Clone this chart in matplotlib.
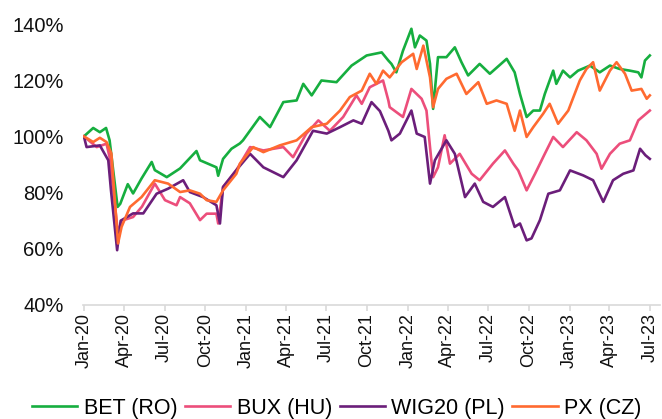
import matplotlib
matplotlib.use('Agg')
import matplotlib.pyplot as plt
import matplotlib.dates as mdates
from matplotlib.ticker import FuncFormatter
import pandas as pd


# values (index, Jan 2020 = 100%)
bet_dates = ['2020-01-01', '2020-01-22', '2020-02-06', '2020-02-20', '2020-02-28', '2020-03-17',
             '2020-03-23', '2020-04-09', '2020-04-21', '2020-05-10', '2020-06-02', '2020-06-09',
             '2020-07-06', '2020-08-05', '2020-09-11', '2020-09-19', '2020-10-26', '2020-10-30',
             '2020-11-10', '2020-11-29', '2020-12-18', '2020-12-25', '2021-02-01', '2021-02-24',
             '2021-03-26', '2021-04-25', '2021-05-10', '2021-05-29', '2021-06-20', '2021-07-24',
             '2021-08-27', '2021-09-30', '2021-11-03', '2021-11-18', '2021-11-25', '2021-12-06',
             '2021-12-21', '2022-01-09', '2022-01-17', '2022-01-28', '2022-02-12', '2022-02-20',
             '2022-02-27', '2022-03-10', '2022-03-29', '2022-04-17', '2022-05-02', '2022-05-17',
             '2022-06-12', '2022-07-05', '2022-08-12', '2022-08-30', '2022-09-11', '2022-09-26',
             '2022-10-11', '2022-10-26', '2022-11-06', '2022-11-25', '2022-12-02', '2022-12-17',
             '2023-01-02', '2023-01-20', '2023-02-16', '2023-03-10', '2023-04-02', '2023-04-24',
             '2023-05-17', '2023-06-05', '2023-06-12', '2023-06-20', '2023-07-01']
bet_vals = [100, 103, 101.5, 103, 98.6, 74.9,
            76, 83, 79.7, 85, 90.9, 88,
            85.5, 88.6, 94.8, 91.5, 89, 86,
            92, 95.6, 97.5, 98.6, 106.9, 103.3,
            112.2, 112.8, 118.7, 114.6, 119.9, 119.3,
            125.2, 128.8, 129.9, 127, 125.8, 122.8,
            130.5, 138.3, 131.7, 135.9, 134.1, 125.8,
            109.8, 128.2, 128.2, 131.7, 126.4, 121.7,
            125.8, 122.3, 127.6, 122.8, 115.1, 106.9,
            109.2, 109.2, 115.1, 123.4, 118.7, 123.4,
            121, 123.4, 125.2, 122.8, 125.2, 124,
            123.4, 122.8, 121, 127, 128.8]

bux_dates = ['2020-01-01', '2020-01-30', '2020-02-21', '2020-02-28', '2020-03-18', '2020-03-26',
             '2020-04-21', '2020-05-11', '2020-06-09', '2020-07-02', '2020-07-28', '2020-08-05',
             '2020-08-27', '2020-09-19', '2020-10-04', '2020-10-26', '2020-10-30', '2020-11-10',
             '2020-12-10', '2021-01-10', '2021-02-09', '2021-03-26', '2021-04-17', '2021-05-17',
             '2021-06-13', '2021-07-09', '2021-08-08', '2021-09-07', '2021-09-19', '2021-10-07',
             '2021-11-06', '2021-11-18', '2021-11-21', '2021-12-21', '2022-01-09', '2022-02-01',
             '2022-02-12', '2022-02-20', '2022-02-27', '2022-03-10', '2022-03-25', '2022-04-06',
             '2022-04-28', '2022-05-25', '2022-06-12', '2022-07-12', '2022-08-08', '2022-08-27',
             '2022-09-07', '2022-09-26', '2022-10-15', '2022-11-06', '2022-11-25', '2022-12-17',
             '2023-01-17', '2023-02-08', '2023-03-03', '2023-03-14', '2023-04-02', '2023-04-24',
             '2023-05-17', '2023-06-05', '2023-07-01']
bux_vals = [100, 96.2, 97.4, 92.6, 65.5, 70,
            71.3, 75, 83.2, 77.3, 75.5, 78.4,
            76.2, 70.2, 72.5, 72.5, 69, 82,
            88, 96.2, 95, 96.2, 92.6, 101,
            105.7, 102, 106.9, 114.6, 111.6, 117.5,
            119.9, 112.8, 110.4, 106.9, 116.9, 113.4,
            109.2, 96.2, 85.5, 89, 100.4, 90.3,
            93.8, 86.7, 84.4, 90.3, 95, 90.3,
            87.9, 80.8, 86.7, 93.8, 99.8, 96.2,
            101.5, 98.6, 93.8, 88.5, 93.8, 97.4,
            98.6, 105.7, 109.2]

wig_dates = ['2020-01-01', '2020-01-07', '2020-02-06', '2020-02-25', '2020-03-02', '2020-03-16',
             '2020-03-24', '2020-04-21', '2020-05-14', '2020-06-13', '2020-07-09', '2020-08-12',
             '2020-08-27', '2020-09-26', '2020-10-26', '2020-11-03', '2020-11-10', '2020-12-10',
             '2021-01-10', '2021-02-09', '2021-03-26', '2021-04-25', '2021-06-01', '2021-07-02',
             '2021-08-01', '2021-08-31', '2021-09-19', '2021-10-11', '2021-10-30', '2021-11-18',
             '2021-11-25', '2021-12-14', '2022-01-09', '2022-01-21', '2022-02-08', '2022-02-20',
             '2022-03-03', '2022-03-29', '2022-04-17', '2022-05-10', '2022-06-01', '2022-06-20',
             '2022-07-12', '2022-08-08', '2022-08-30', '2022-09-11', '2022-09-26', '2022-10-07',
             '2022-10-26', '2022-11-14', '2022-12-10', '2023-01-02', '2023-02-01', '2023-02-23',
             '2023-03-18', '2023-04-09', '2023-05-02', '2023-05-25', '2023-06-09', '2023-06-21',
             '2023-07-01']
wig_vals = [100, 96.2, 96.8, 91.5, 81, 59.5,
            70, 72.6, 72.6, 79.6, 81.4, 84.4,
            80.2, 78.4, 75.5, 69, 82, 88,
            93.8, 89, 85.5, 91.5, 102, 101,
            103.3, 105.7, 104.5, 112.2, 109, 102,
            98.6, 101, 109.2, 101, 99.8, 83.2,
            91.5, 98.6, 93.8, 78.4, 83.2, 76.7,
            74.9, 78.4, 67.8, 69, 63, 63.7,
            70.2, 79.6, 80.8, 87.9, 86.1, 84.4,
            76.7, 84.4, 86.7, 87.9, 95.6, 93.3,
            92]

px_dates = ['2020-01-01', '2020-01-22', '2020-02-06', '2020-02-21', '2020-03-03', '2020-03-18',
            '2020-03-26', '2020-04-14', '2020-05-10', '2020-06-09', '2020-07-09', '2020-08-05',
            '2020-08-27', '2020-09-19', '2020-10-04', '2020-10-26', '2020-11-10', '2020-12-10',
            '2020-12-18', '2021-01-17', '2021-02-09', '2021-03-18', '2021-04-25', '2021-05-29',
            '2021-07-02', '2021-08-01', '2021-08-23', '2021-09-19', '2021-10-07', '2021-10-22',
            '2021-11-06', '2021-11-21', '2021-12-18', '2022-01-13', '2022-01-21', '2022-02-05',
            '2022-02-20', '2022-02-27', '2022-03-10', '2022-03-29', '2022-04-21', '2022-05-13',
            '2022-06-09', '2022-06-28', '2022-07-20', '2022-08-12', '2022-08-30', '2022-09-11',
            '2022-09-26', '2022-10-11', '2022-11-02', '2022-11-17', '2022-12-06', '2022-12-29',
            '2023-01-24', '2023-02-08', '2023-02-23', '2023-03-10', '2023-04-02', '2023-04-17',
            '2023-05-06', '2023-05-21', '2023-06-12', '2023-06-24', '2023-07-01']
px_vals = [100, 98, 99.5, 98, 93.9, 61.9,
           67.8, 74.9, 78.4, 84.4, 83.2, 80.2,
           80.8, 79.6, 77.3, 76.7, 80.8, 86.7,
           90.3, 96.2, 94.4, 96.8, 98.6, 103.3,
           104.5, 109.2, 114, 116.3, 122.3, 118.7,
           123.4, 121, 126.4, 129.4, 124, 132.3,
           121, 110.4, 116.9, 120.5, 122.3, 115.1,
           119.3, 111.6, 112.8, 111.6, 102, 109.2,
           99.8, 103.3, 108, 111.6, 104.5, 109.2,
           119.9, 124, 126.4, 116.3, 123.4, 126.4,
           122.3, 116.3, 116.9, 113.4, 114.6]

series = [
    ('BET (RO)', bet_dates, bet_vals, '#16ae3f'),
    ('BUX (HU)', bux_dates, bux_vals, '#ec4e7b'),
    ('WIG20 (PL)', wig_dates, wig_vals, '#6b1e7a'),
    ('PX (CZ)', px_dates, px_vals, '#ff6a30'),
]

plt.rcParams['font.family'] = ['Liberation Sans', 'DejaVu Sans']

fig = plt.figure(figsize=(6.62, 4.19), dpi=100)
ax = fig.add_axes([0.1254, 0.2721, 0.8716, 0.6706])

for name, d, v, c in series:
    ax.plot(pd.to_datetime(d), v, color=c, lw=1.9, label=name, solid_joinstyle='round')

ax.set_ylim(40, 140)
ax.set_yticks([40, 60, 80, 100, 120, 140])
ax.yaxis.set_major_formatter(FuncFormatter(lambda y, _: '{:.0f}%'.format(y)))
ax.set_xlim(pd.Timestamp('2019-12-30'), pd.Timestamp('2023-07-24'))
ax.xaxis.set_major_locator(mdates.MonthLocator(bymonth=[1, 4, 7, 10]))
ax.xaxis.set_major_formatter(mdates.DateFormatter('%b-%y'))

for s in ['top', 'right', 'left']:
    ax.spines[s].set_visible(False)
ax.spines['bottom'].set_color('#d9d9d9')
ax.spines['bottom'].set_linewidth(1.2)
ax.tick_params(axis='y', length=0, pad=14, labelsize=14.5, labelcolor='#111111')
ax.tick_params(axis='x', length=4, width=1.2, color='#d9d9d9', pad=2,
               labelsize=13, labelrotation=90, labelcolor='#111111')

leg = ax.legend(loc='upper center', bbox_to_anchor=(0.44, -0.33), ncol=4, frameon=False,
                fontsize=15.5, handlelength=2.1, handletextpad=0.3, columnspacing=0.35,
                borderaxespad=0, borderpad=0)

fig.savefig('out.png', dpi=100)
